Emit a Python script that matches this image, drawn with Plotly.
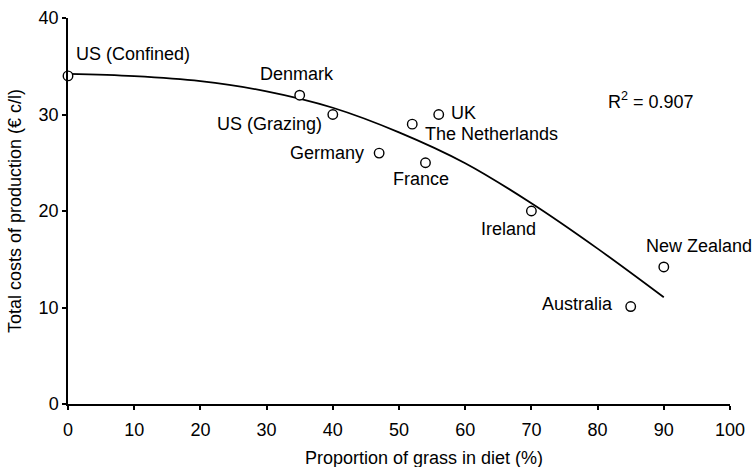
import plotly.graph_objects as go

countries = ["US (Confined)", "Denmark", "US (Grazing)", "Germany", "The Netherlands",
             "France", "UK", "Ireland", "Australia", "New Zealand"]
grass_pct = [0, 35, 40, 47, 52, 54, 56, 70, 85, 90]
cost_c_per_l = [34, 32, 30, 26, 29, 25, 30, 20, 10.1, 14.2]

# polynomial trendline
trend_x = [0, 10, 20, 30, 40, 50, 60, 70, 80, 90]
trend_y = [34.2, 33.97, 33.45, 32.4, 30.7, 28.15, 24.95, 20.8, 16.1, 11.06]

r2_text = "R<sup>2</sup> = 0.907"
x_title = "Proportion of grass in diet (%)"
y_title = "Total costs of production (€ c/l)"

# label placement (pixel offsets from the point), style only
label_pos = {
    "US (Confined)": ("left", 6, 22),
    "Denmark": ("center", -3, 21),
    "US (Grazing)": ("right", -9, -9),
    "Germany": ("right", -13, 0),
    "The Netherlands": ("left", 11, -10),
    "France": ("center", -4, -16),
    "UK": ("left", 10, 2),
    "Ireland": ("center", -23, -18),
    "Australia": ("right", -16, 3),
    "New Zealand": ("center", 35, 21),
}

FONT = "Liberation Sans, Arial, sans-serif"
fig = go.Figure()
fig.add_trace(go.Scatter(x=trend_x, y=trend_y, mode="lines",
                         line=dict(color="black", width=1.8, shape="spline", smoothing=1.0),
                         hoverinfo="skip", showlegend=False))
fig.add_trace(go.Scatter(x=grass_pct, y=cost_c_per_l, mode="markers",
                         marker=dict(symbol="circle", size=9.5, color="white",
                                     line=dict(color="black", width=1.4)),
                         cliponaxis=False, showlegend=False, text=countries))

for name, gx, gy in zip(countries, grass_pct, cost_c_per_l):
    anchor, dx, dy = label_pos[name]
    fig.add_annotation(x=gx, y=gy, text=name, showarrow=False, xanchor=anchor,
                       yanchor="middle", xshift=dx, yshift=dy,
                       font=dict(family=FONT, size=18, color="black"))

fig.add_annotation(x=81.3, y=31.5, text=r2_text, showarrow=False, xanchor="left",
                   yanchor="middle", font=dict(family=FONT, size=18, color="black"))

fig.add_annotation(xref="paper", yref="paper", x=0.5, y=0, xshift=25, yshift=-54,
                   text=x_title, showarrow=False, xanchor="center", yanchor="middle",
                   font=dict(family=FONT, size=18, color="black"))
fig.add_annotation(xref="paper", yref="paper", x=0, y=0.5, xshift=-53,
                   text=y_title, showarrow=False, textangle=-90,
                   xanchor="center", yanchor="middle",
                   font=dict(family=FONT, size=18, color="black"))

fig.update_layout(
    width=755, height=467,
    margin=dict(l=68, r=25, t=18, b=63),
    paper_bgcolor="white", plot_bgcolor="white",
    font=dict(family=FONT, size=18, color="black"),
    xaxis=dict(range=[0, 100], dtick=10, showgrid=False, zeroline=False,
               showline=True, linecolor="black", linewidth=1.5, automargin=False,
               ticks="outside", ticklen=4, tickwidth=1.5, tickcolor="black",
               ticklabelstandoff=5),
    yaxis=dict(range=[0, 40], dtick=10, showgrid=False, zeroline=False,
               showline=True, linecolor="black", linewidth=1.5, automargin=False,
               ticks="outside", ticklen=4, tickwidth=1.5, tickcolor="black"),
)
fig.write_html("out.html", config={"displayModeBar": False},
               post_script="document.body.style.margin='0';")
